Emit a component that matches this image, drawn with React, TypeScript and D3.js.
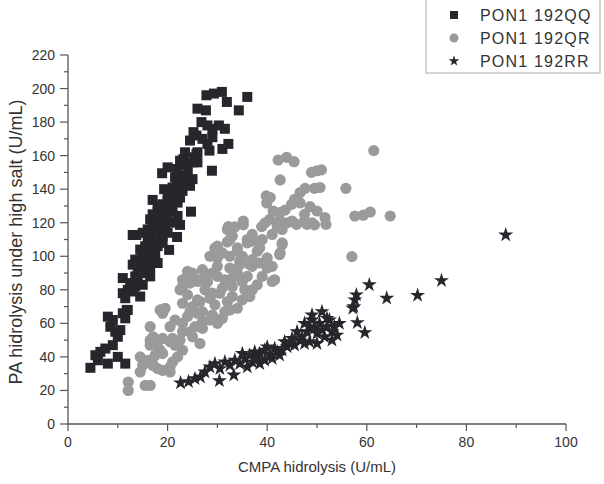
import * as d3 from 'd3';

// PON1 192QQ (black squares) [CMPA, PA]
const qqPoints: [number, number][] = [
  [4.5, 33.5], [6, 38], [6.5, 43], [7.5, 45], [10, 40], [9, 47], [11.5, 36], [5.5, 41], [8, 36],
  [8.5, 58], [9, 62], [9.5, 55], [10.5, 56], [10, 52], [8, 64], [11, 66], [12, 68], [11.5, 63], [11.8, 68],
  [11, 78], [12, 80], [13, 79], [12.5, 84], [14, 86], [13.5, 82], [14.5, 76], [15, 83], [11.5, 75], [11, 87],
  [13.5, 88], [14, 92], [15, 95], [16, 97], [14.5, 98], [15.5, 90], [16.5, 93], [13, 95], [16.5, 88], [13.5, 98],
  [15, 100], [16, 102], [17, 104], [15.5, 106], [16.5, 108], [17.5, 101], [18, 106], [14.5, 104],
  [18.5, 110], [16, 110], [20.3, 103.8], [17.5, 98], [18, 96], [13, 112.7],
  [13.7, 112.7], [16.5, 112], [17.5, 114], [18, 116], [19, 112], [17, 118], [19.5, 117], [18.5, 119],
  [20, 114], [21.9, 111.5], [22.5, 118.7], [16, 116], [19, 108], [15, 114],
  [17.5, 121], [18.5, 123], [19, 125], [20, 122], [20.5, 127], [18, 127], [21, 129], [19.5, 129],
  [22, 124], [24.7, 126.6], [17, 125], [21, 120], [16.5, 122],
  [19, 131], [20, 133], [21, 135], [22, 132], [20.5, 138], [21.5, 137], [17, 133.6], [19.3, 140],
  [23, 139], [22.5, 135], [20, 136], [18, 130],
  [21, 141], [22, 143], [23, 145], [21.5, 147], [23.5, 148], [24.5, 142], [25, 146], [18.9, 149.5],
  [22.5, 140], [24, 150], [22, 146],
  [20, 153], [21.9, 152], [23, 155], [23.2, 158], [24, 152], [25, 156], [26, 156], [28.9, 151],
  [22.5, 157], [25.5, 159], [23.5, 162],
  [25.8, 161], [26, 162], [28.4, 163], [31, 164], [24.5, 169], [25.8, 172], [27, 170], [28, 167],
  [32.2, 167], [29, 171],
  [25.2, 174], [26.8, 180], [30.3, 178], [31.5, 176], [26, 188], [27.7, 187], [34.3, 187],
  [27.8, 196], [29.3, 197], [30.9, 198], [31.9, 192], [29, 176], [28, 178], [36, 195],
];

// PON1 192QR (grey circles)
const qrPoints: [number, number][] = [
  [12.1, 20], [12.1, 25], [15.5, 23], [16.5, 23], [14.5, 31], [15, 35], [14.5, 40], [16, 38], [17, 36],
  [18, 33], [17.5, 41], [19, 32], [20.5, 34], [21, 37], [22, 40], [23, 44], [18.5, 44], [16.5, 47],
  [17, 50], [18, 46], [19, 51], [20.5, 49], [21.5, 47], [22.5, 50], [24.5, 55], [25, 52], [26.5, 48],
  [16.5, 58], [20.5, 58], [21.5, 62], [23, 60], [24, 64], [25.5, 58], [27, 61], [28.5, 62], [30, 60], [31, 63],
  [18.5, 68], [19.5, 69], [23, 72], [24, 77], [25, 70], [26, 74], [27.5, 80], [28.5, 75], [29.5, 71],
  [30.5, 78], [32, 73], [33, 76], [34, 69], [31.5, 67], [27, 67], [29, 65], [26, 66],
  [24, 88], [25, 90], [24.5, 84], [26.5, 86], [28, 84.7], [29, 90], [30, 88], [31.5, 86], [34, 90],
  [22.5, 80], [23, 86], [27, 92], [30, 94], [32.5, 93], [35, 85], [36, 88], [37, 94], [33, 82],
  [35.5, 80], [38, 83], [36.5, 76], [39, 88],
  [29.5, 104.8], [32, 108.5], [33, 112], [33.5, 117.5], [30, 99], [31, 102], [32.5, 100], [34, 105],
  [35, 100], [36, 108], [37, 98], [38, 103], [39, 110], [40, 99], [41, 94], [41.5, 86], [42.6, 102],
  [43, 108], [36.5, 95], [38.5, 96], [34.5, 97],
  [32.2, 117.7], [35.2, 118.7], [38.9, 117.7], [39.6, 120], [40.5, 122], [42, 118], [43, 116], [44, 120],
  [45.9, 119], [47.5, 121], [49, 120], [51.6, 123], [37, 113], [36, 110], [41, 113],
  [39.8, 136], [40.6, 135], [39.9, 131.8], [41.2, 127], [42.5, 126], [43.6, 127.5], [44.9, 131],
  [45.5, 134], [46.6, 138], [48.6, 129.6], [46.6, 131.8], [47.5, 125], [50, 127], [51.8, 119],
  [49.5, 118.7], [57.6, 124], [59.3, 124.5], [60.7, 126.4], [64.7, 124],
  [42.6, 145.5], [47.6, 140.5], [49.5, 140.5], [50.6, 141], [55.8, 140.5], [48.9, 150], [50, 151],
  [50.9, 151.5], [42.2, 157.4], [43.9, 159], [45.4, 156.4], [61.4, 163], [57, 99.8],
  [16.5, 50], [17.1, 52], [19, 66], [23, 82], [24, 91], [26, 85], [28, 89], [28.5, 100], [30, 106],
  [32, 116], [32.5, 110], [34, 103], [34.5, 95], [35.2, 121], [37, 109], [38.5, 105], [40, 93],
  [41, 85], [37, 80], [35, 74], [32.5, 68], [30.5, 62], [27, 57], [24.5, 67], [26.5, 73], [29, 78],
  [31, 81], [33, 87], [23, 55], [21, 51], [19, 42], [17, 35], [20.5, 31], [42.5, 121.6], [45, 121],
  [48, 119], [43, 107], [42.5, 101],
];

// PON1 192RR (black stars)
const rrPoints: [number, number][] = [
  [22.6, 24.5], [24.2, 25.2], [26.6, 28], [30.4, 25.8], [33.3, 29.2], [25.5, 27],
  [27.5, 31], [28.5, 34], [29.5, 36], [30.5, 33], [31.5, 37], [32.5, 35], [33.5, 38], [34.5, 36],
  [35.5, 39], [36, 34], [37, 37], [38, 40], [38.5, 36], [39.5, 38],
  [36.5, 41], [37.5, 43], [38.5, 42], [39.5, 44], [40.5, 41], [41.5, 45], [42, 43], [43, 44],
  [44, 46], [40, 46], [37.5, 39], [35, 42], [41, 39], [42.5, 41],
  [44.5, 48], [45.5, 47], [46.5, 50], [47, 52], [45, 51], [43.5, 49], [46, 55], [47.5, 48],
  [48, 55], [48.5, 58], [49, 62], [49.5, 57], [50, 54], [50.5, 60], [51, 56], [51.5, 52], [52, 58],
  [52.5, 62], [53, 55], [53.5, 58], [54, 53], [54.5, 60], [49, 65], [51, 67], [52, 63], [48.5, 49],
  [50, 48], [53, 50], [47.5, 60],
  [57.2, 69], [57.4, 70], [57.6, 74], [57.9, 77], [58.1, 60.4], [59.6, 54.5], [60.5, 83], [64, 75],
  [70.2, 76.7], [75, 85.5], [87.9, 112.7],
];

const legendLabels = ['PON1 192QQ', 'PON1 192QR', 'PON1 192RR'];
const xTicks = d3.range(0, 101, 10);
const yTicks = d3.range(0, 221, 10);

const W = 604;
const H = 484;
const dark = '#26262c';
const grey = '#9a9a9c';
const axisColor = '#555';
const textColor = '#333';
const font = 'Liberation Sans, Arial, sans-serif';

export default function App() {
  const x = d3.scaleLinear().domain([0, 100]).range([68, 566]);
  const y = d3.scaleLinear().domain([0, 220]).range([424, 55]);

  const square = d3.symbol(d3.symbolSquare, 100)()!;
  const star = d3.symbol(d3.symbolStar, 70)()!;
  const legendSquare = d3.symbol(d3.symbolSquare, 64)()!;
  const legendStar = d3.symbol(d3.symbolStar, 36)()!;

  return (
    <svg width={W} height={H} style={{ position: 'absolute', left: 0, top: 0, background: '#fff' }} fontFamily={font}>
      {/* points */}
      <g>
        {qqPoints.map((d, i) => (
          <path key={'qq' + i} d={square} transform={`translate(${x(d[0])},${y(d[1])})`} fill={dark} />
        ))}
        {qrPoints.map((d, i) => (
          <circle key={'qr' + i} cx={x(d[0])} cy={y(d[1])} r={5.6} fill={grey} />
        ))}
        {rrPoints.map((d, i) => (
          <path key={'rr' + i} d={star} transform={`translate(${x(d[0])},${y(d[1])})`} fill={dark} />
        ))}
      </g>

      {/* x axis */}
      <g>
        <line x1={x(0)} x2={x(100)} y1={y(0)} y2={y(0)} stroke={axisColor} strokeWidth={1.3} />
        {xTicks.map(t => (
          <line key={t} x1={x(t)} x2={x(t)} y1={y(0)} y2={y(0) + (t % 20 === 0 ? 7 : 4)} stroke={axisColor} strokeWidth={1.2} />
        ))}
        {xTicks.filter(t => t % 20 === 0).map(t => (
          <text key={t} x={x(t)} y={y(0) + 23} textAnchor="middle" fontSize={14} fill={textColor}>{t}</text>
        ))}
        <text x={317} y={472} textAnchor="middle" fontSize={15} fill={textColor}>CMPA hidrolysis (U/mL)</text>
      </g>

      {/* y axis */}
      <g>
        <line x1={x(0)} x2={x(0)} y1={y(0)} y2={y(220)} stroke={axisColor} strokeWidth={1.3} />
        {yTicks.map(t => (
          <line key={t} x1={x(0) - (t % 20 === 0 ? 8 : 4)} x2={x(0)} y1={y(t)} y2={y(t)} stroke={axisColor} strokeWidth={1.2} />
        ))}
        {yTicks.filter(t => t % 20 === 0).map(t => (
          <text key={t} x={55} y={y(t) + 5} textAnchor="end" fontSize={14} fill={textColor}>{t}</text>
        ))}
        <text transform={`translate(22,242) rotate(-90)`} textAnchor="middle" fontSize={18} fill={textColor}>
          PA hidrolysis under high salt (U/mL)
        </text>
      </g>

      {/* legend */}
      <g>
        <rect x={426} y={-1} width={174} height={74} fill="#fff" stroke="#aaa" strokeWidth={1} />
        {legendLabels.map((label, i) => {
          const cy = 15 + i * 23;
          return (
            <g key={label}>
              {i === 0 && <path d={legendSquare} transform={`translate(454,${cy})`} fill={dark} />}
              {i === 1 && <circle cx={454} cy={cy} r={4.5} fill={grey} />}
              {i === 2 && <path d={legendStar} transform={`translate(454,${cy})`} fill={dark} />}
              <text x={480} y={cy + 6} fontSize={16} letterSpacing={1.2} fill={textColor}>{label}</text>
            </g>
          );
        })}
      </g>
    </svg>
  );
}
